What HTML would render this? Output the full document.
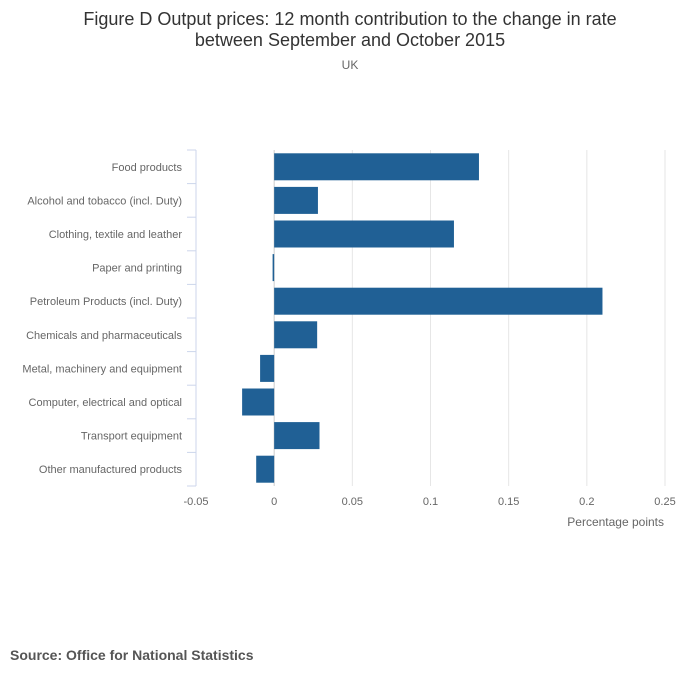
<!DOCTYPE html>
<html><head><meta charset="utf-8"><style>
body{margin:0;background:#fff;font-family:"Liberation Sans",sans-serif}
</style></head><body>
<svg id="c" width="700" height="682" xmlns="http://www.w3.org/2000/svg">
<text x="350" y="25" text-anchor="middle" font-size="18" fill="#333">Figure D Output prices: 12 month contribution to the change in rate</text>
<text x="350" y="46" text-anchor="middle" font-size="18" fill="#333">between September and October 2015</text>
<text x="350" y="69" text-anchor="middle" font-size="12" fill="#666">UK</text>
<text x="664" y="526" text-anchor="end" font-size="12" fill="#666">Percentage points</text>
<text x="10" y="660" font-size="14" font-weight="bold" fill="#555">Source: Office for National Statistics</text>
<g id="plot"></g>
</svg>
<script>
const categories=["Food products","Alcohol and tobacco (incl. Duty)","Clothing, textile and leather","Paper and printing","Petroleum Products (incl. Duty)","Chemicals and pharmaceuticals","Metal, machinery and equipment","Computer, electrical and optical","Transport equipment","Other manufactured products"];
const values=[0.131,0.028,0.115,-0.001,0.21,0.0275,-0.009,-0.0205,0.029,-0.0115];
const ticks=[-0.05,0,0.05,0.1,0.15,0.2,0.25];
const tickLabels=["-0.05","0","0.05","0.1","0.15","0.2","0.25"];
const NS="http://www.w3.org/2000/svg";
const g=document.getElementById('plot');
const x0=196,x1=665,xmin=-0.05,xmax=0.25,plotTop=150,plotBot=486;
const xs=v=>x0+(v-xmin)/(xmax-xmin)*(x1-x0);
const band=(plotBot-plotTop)/categories.length;
function mk(t,a){const e=document.createElementNS(NS,t);for(const k in a)e.setAttribute(k,a[k]);g.appendChild(e);return e;}
ticks.forEach((t,i)=>{
 if(t!==xmin){const l=mk('line',{x1:xs(t),x2:xs(t),y1:plotTop,y2:plotBot,stroke:t===0?'#ccc':'#e6e6e6','stroke-width':1});
 
 }
 const tx=mk('text',{x:xs(t),y:505,'text-anchor':'middle','font-size':11,fill:'#666'});tx.textContent=tickLabels[i];
 
 
});
const ax=mk('line',{x1:x0,x2:x0,y1:plotTop,y2:plotBot,stroke:'#ccd6eb','stroke-width':1});


for(let i=0;i<=categories.length;i++){const y=plotTop+i*band;const tk=mk('line',{x1:187,x2:x0,y1:y,y2:y,stroke:'#ccd6eb'});
 
 }
categories.forEach((c,i)=>{
 const cy=plotTop+(i+0.5)*band,v=values[i];
 const a=Math.min(xs(0),xs(v)),w=Math.max(Math.abs(xs(v)-xs(0)),1.5);
 const r=mk('rect',{x:a,y:cy-13.5,width:w,height:27,fill:'#206095'});
 
 
 const t=mk('text',{x:182,y:cy+4,'text-anchor':'end','font-size':11,fill:'#666'});t.textContent=c;
 
 
});
</script>
</body></html>
